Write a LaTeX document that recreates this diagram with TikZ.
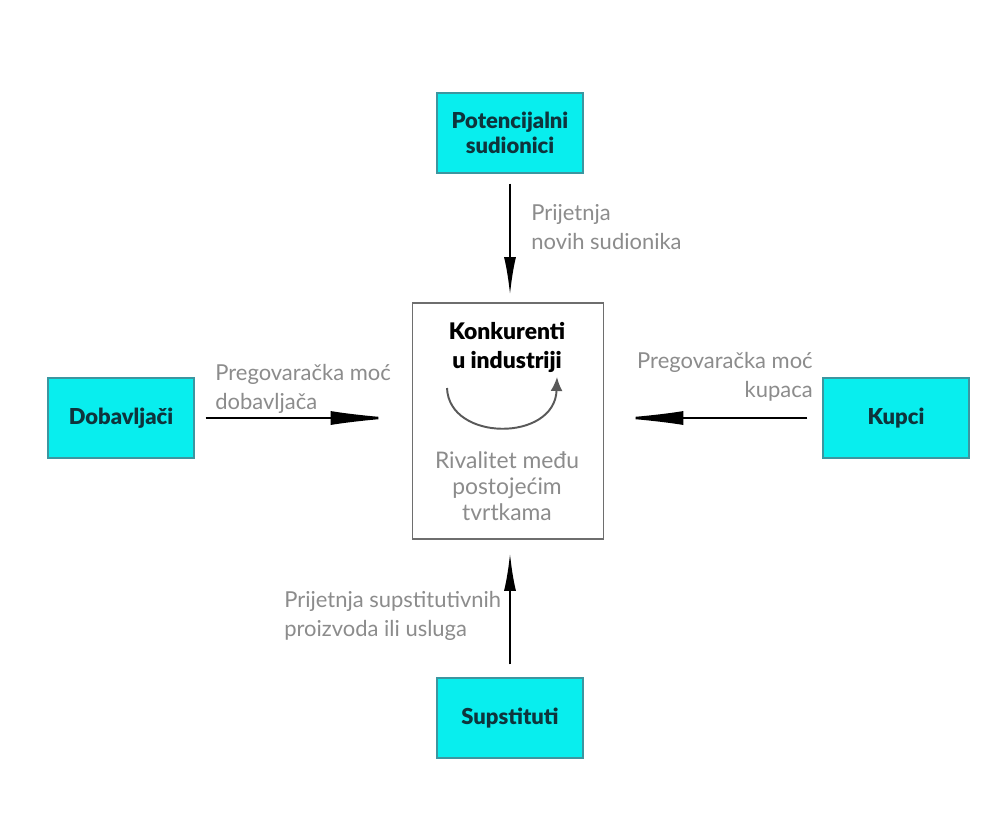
\documentclass[tikz,border=0pt]{standalone}
\usepackage{fontspec}
\setmainfont{Lato}
\newfontfamily\heavyfont{Lato Black}
\usetikzlibrary{arrows.meta,positioning}

\definecolor{boxcyan}{RGB}{8,238,238}
\definecolor{boxedge}{RGB}{60,150,160}
\definecolor{boxtext}{RGB}{14,52,60}
\definecolor{labelgray}{RGB}{140,140,140}
\definecolor{framegray}{RGB}{110,110,110}

\tikzset{
    force/.style={draw=boxedge, fill=boxcyan, line width=0.8pt,
        minimum width=2.92cm, minimum height=1.6cm, align=center,
        text=boxtext, font=\fontsize{12.5}{14}\selectfont\heavyfont},
    rivals/.style={draw=framegray, line width=1.1pt,
        minimum width=3.82cm, minimum height=4.72cm},
    pressure/.style={text=labelgray, inner sep=0pt,
        font=\fontsize{12.5}{16.5}\selectfont},
    longarrow/.style={line width=1.4pt,
        -{Latex[length=1.3cm,width=0.28cm]}},
    shortarrow/.style={line width=1.4pt,
        -{Latex[length=0.76cm,width=0.24cm]}}
}

\begin{document}
\begin{tikzpicture}[x=0.02cm,y=-0.02cm]
            \useasboundingbox[fill=white] (0,0) rectangle (1000,823);

            \node[rivals] (konk) at (508,421) {};
            \node[force] (pot) at (510,133) {Potencijalni\\sudionici};
            \node[force] (dob) at (121,418) {Dobavljači};
            \node[force] (kup) at (896,418) {Kupci};
            \node[force] (sup) at (510,718) {Supstituti};

            \node[align=center, inner sep=0pt,
                font=\fontsize{13}{16.5}\selectfont\heavyfont] (title)
                at (507,347) {Konkurenti\\u industriji};
            \node[pressure, align=center,
                font=\fontsize{13}{14.8}\selectfont] (rival)
                at (507,486) {Rivalitet među\\postojećim\\tvrtkama};

            \coordinate (arcL) at (447,388);
            \coordinate (arcR) at (557,377);
            \draw[line width=1.1pt, draw=black!65,
                -{Latex[length=0.28cm,width=0.24cm]}]
                (arcL) .. controls (449,442) and (555,442) .. (arcR);

            \node[pressure, align=left, anchor=west] (newlab)
                at (531,227) {Prijetnja\\novih sudionika};
            \node[pressure, align=left, anchor=west] (doblab)
                at (215,389) {Pregovaračka moć\\dobavljača};
            \node[pressure, align=right, anchor=east] (kuplab)
                at (813,377) {Pregovaračka moć\\kupaca};
            \node[pressure, align=left, anchor=west] (suplab)
                at (284,616) {Prijetnja supstitutivnih\\proizvoda ili usluga};

            \draw[shortarrow, shorten <=0.2cm, shorten >=0.14cm]
                (pot.south) -- (pot.south |- konk.north);
            \draw[longarrow, shorten <=0.22cm, shorten >=0.32cm]
                (dob.east) -- (dob.east -| konk.west);
            \draw[longarrow, shorten <=0.3cm, shorten >=0.28cm]
                (kup.west) -- (kup.west -| konk.east);
            \draw[shortarrow, shorten <=0.26cm, shorten >=0.26cm]
                (sup.north) -- (sup.north |- konk.south);
        \end{tikzpicture}
\end{document}
